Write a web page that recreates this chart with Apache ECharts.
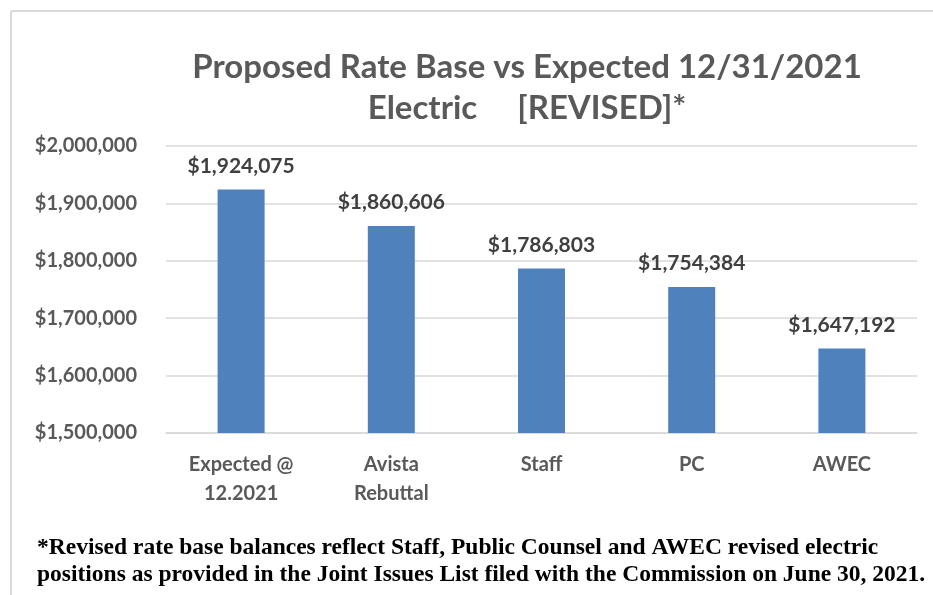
<!DOCTYPE html>
<html><head><meta charset="utf-8">
<script src="https://cdn.jsdelivr.net/npm/echarts@6/dist/echarts.min.js"></script>
<style>html,body{margin:0;padding:0;background:#fff}#c{width:933px;height:595px}</style>
</head><body><div id="c"></div>
<script>
var categories = ['Expected @\n12.2021', 'Avista\nRebuttal', 'Staff', 'PC', 'AWEC'];
var values = [1924075, 1860606, 1786803, 1754384, 1647192];
var titleLines = ['Proposed Rate Base vs Expected 12/31/2021', 'Electric     [REVISED]*'];
var footnote = ['*Revised rate base balances reflect Staff, Public Counsel and AWEC revised electric',
                'positions as provided in the Joint Issues List filed with the Commission on June 30, 2021.'];
var yMin = 1500000, yMax = 2000000, yStep = 100000;

function money(v){ return '$' + v.toString().replace(/\B(?=(\d{3})+(?!\d))/g, ','); }

var chart = echarts.init(document.getElementById('c'));
chart.setOption({
  animation: false,
  backgroundColor: '#ffffff',
  title: {
    text: titleLines.join('\n'),
    left: 522, top: 42, textAlign: 'center',
    textStyle: { fontFamily: 'Lato', fontWeight: 'bold', fontSize: 33, color: '#595959', lineHeight: 41 }
  },
  grid: { left: 166, right: 16, top: 146, bottom: 162 },
  xAxis: {
    type: 'category', data: categories,
    axisLine: { show: true, lineStyle: { color: '#d9d9d9', width: 1.5 } },
    axisTick: { show: false },
    axisLabel: { fontFamily: 'Lato', fontWeight: 'bold', fontSize: 20, color: '#595959', margin: 17, lineHeight: 29 }
  },
  yAxis: {
    type: 'value', min: yMin, max: yMax, interval: yStep,
    axisLine: { show: false }, axisTick: { show: false },
    splitLine: { lineStyle: { color: '#d9d9d9', width: 1.5 } },
    axisLabel: { formatter: money, fontFamily: 'Lato', fontWeight: 'bold', fontSize: 20, color: '#595959', margin: 29 }
  },
  series: [{
    type: 'bar', data: values, barWidth: 47,
    itemStyle: { color: '#4f81bd' },
    label: { show: true, position: 'top', distance: 13, formatter: function(p){ return money(p.value); },
      fontFamily: 'Lato', fontWeight: 'bold', fontSize: 21, color: '#404040' }
  }],
  graphic: [
    { type: 'line', shape: { x1: 11, y1: 11, x2: 933, y2: 11 }, style: { stroke: '#d9d9d9', lineWidth: 2 } },
    { type: 'line', shape: { x1: 11, y1: 11, x2: 11, y2: 595 }, style: { stroke: '#d9d9d9', lineWidth: 2 } },
    { type: 'text', left: 37, top: 534, style: { text: footnote.join('\n'), font: 'bold 23.5px "Liberation Serif"', fill: '#000000', lineHeight: 27 } }
  ]
});
</script></body></html>
